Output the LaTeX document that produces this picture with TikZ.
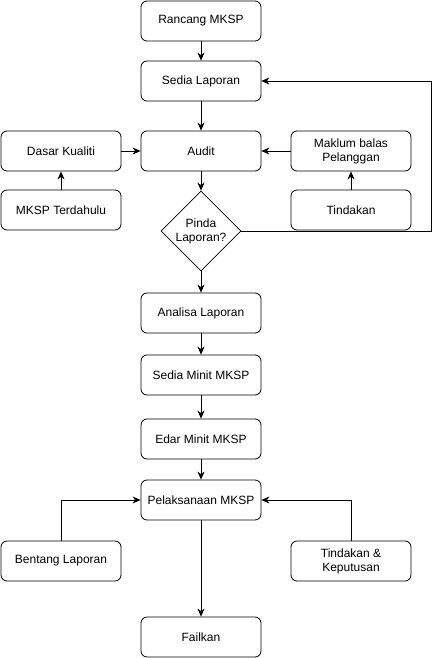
\documentclass[tikz,border=0pt]{standalone}
\usepackage{fontspec}
\setmainfont{Liberation Sans}
\usetikzlibrary{shapes.geometric,arrows.meta}
\begin{document}
\begin{tikzpicture}[x=1pt,y=-1pt,
  box/.style={draw,rounded corners=6pt,minimum width=120pt,minimum height=40pt,inner sep=2pt,align=center,font=\fontsize{12}{14}\selectfont,line width=0.8pt},
  decide/.style={draw,diamond,aspect=1,minimum width=80pt,minimum height=80pt,inner sep=0pt,align=center,font=\fontsize{12}{14}\selectfont,line width=0.8pt},
  conn/.style={line width=0.8pt,-{Stealth[length=8pt,width=7pt,inset=2.5pt]}}]
\useasboundingbox (0,0) rectangle (439,658);
\node[box] (rancang) at (201,21) {Rancang MKSP};
\node[box] (sedia) at (201,81) {Sedia Laporan};
\node[box] (audit) at (201,151) {Audit};
\node[box] (dasar) at (61,151) {Dasar Kualiti};
\node[box] (mksp) at (61,210) {MKSP Terdahulu};
\node[box] (maklum) at (351,151) {Maklum balas\\Pelanggan};
\node[box] (tindakan) at (351,210) {Tindakan};
\node[decide] (pinda) at (201,231) {Pinda\\Laporan?};
\node[box] (analisa) at (201,313) {Analisa Laporan};
\node[box] (minit) at (201,375) {Sedia Minit MKSP};
\node[box] (edar) at (201,439) {Edar Minit MKSP};
\node[box] (pelak) at (201,500) {Pelaksanaan MKSP};
\node[box] (bentang) at (61,561) {Bentang Laporan};
\node[box] (keput) at (351,561) {Tindakan \&\\Keputusan};
\node[box] (failkan) at (201,637) {Failkan};
\coordinate (loopA) at (431,231);
\coordinate (loopB) at (431,81);
\draw[conn] (rancang) -- (sedia);
\draw[conn] (sedia) -- (audit);
\draw[conn] (dasar) -- (audit);
\draw[conn] (mksp) -- (dasar);
\draw[conn] (maklum) -- (audit);
\draw[conn] (tindakan) -- (maklum);
\draw[conn] (audit) -- (pinda);
\draw[conn] (pinda.east) -- (loopA) -- (loopB) -- (sedia.east);
\draw[conn] (pinda) -- (analisa);
\draw[conn] (analisa) -- (minit);
\draw[conn] (minit) -- (edar);
\draw[conn] (edar) -- (pelak);
\draw[conn] (bentang.north) |- (pelak.west);
\draw[conn] (keput.north) |- (pelak.east);
\draw[conn] (pelak) -- (failkan);
\end{tikzpicture}
\end{document}
